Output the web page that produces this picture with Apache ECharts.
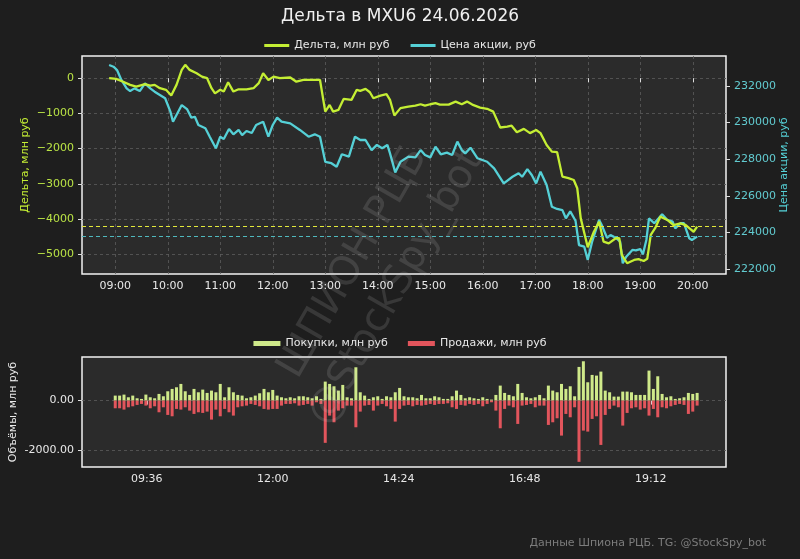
<!DOCTYPE html>
<html>
<head>
<meta charset="utf-8">
<script src="https://cdn.jsdelivr.net/npm/echarts@6/dist/echarts.min.js"></script>
<style>
  html, body { margin: 0; background: #1e1e1e; }
  #chart { width: 800px; height: 559px; }
</style>
</head>
<body>
<div id="chart"></div>
<script>
// delta, cumulative (mln rub)
const deltaTimes = ["08:53","09:01","09:09","09:17","09:24","09:34","09:40","09:45","09:51","09:58",
  "10:04","10:10","10:16","10:20","10:25","10:33","10:39","10:45","10:50","10:54",
  "11:00","11:04","11:09","11:15","11:21","11:30","11:38","11:44","11:49","11:55",
  "12:01","12:08","12:20","12:27","12:35","12:46","12:54","13:00","13:05","13:09",
  "13:15","13:21","13:30","13:36","13:40","13:46","13:51","13:55","14:03","14:10",
  "14:14","14:19","14:26","14:35","14:43","14:49","14:54","15:00","15:06","15:11",
  "15:21","15:29","15:36","15:42","15:48","15:57","16:05","16:12","16:20","16:28",
  "16:33","16:39","16:47","16:54","17:01","17:06","17:13","17:19","17:25","17:31",
  "17:38","17:44","17:48","17:52","18:00","18:07","18:13","18:18","18:24","18:32",
  "18:36","18:39","18:45","18:53","18:58","19:04","19:08","19:12","19:17","19:23",
  "19:31","19:38","19:46","19:52","19:56","20:01","20:05"]
const deltaValues = [0,-20,-100,-190,-240,-170,-210,-190,-285,-330,
  -490,-190,235,380,235,140,45,0,-285,-430,
  -330,-380,-115,-380,-315,-315,-285,-140,140,-50,
  45,0,20,-100,-50,-50,-50,-950,-760,-950,
  -900,-590,-615,-330,-360,-305,-400,-570,-495,-455,
  -615,-1060,-850,-805,-780,-740,-780,-740,-710,-750,
  -750,-665,-740,-665,-750,-835,-870,-950,-1400,-1375,
  -1350,-1535,-1440,-1560,-1470,-1560,-1895,-2085,-2100,-2795,
  -2840,-2890,-3125,-3980,-4800,-4360,-4075,-4640,-4690,-4545,
  -4545,-5020,-5255,-5160,-5140,-5190,-5130,-4450,-4260,-3930,
  -4025,-4170,-4120,-4170,-4260,-4360,-4215]

// share price (rub)
const priceTimes = ["08:53","08:58","09:02","09:07","09:13","09:17","09:22","09:28","09:34","09:40",
  "09:45","09:51","09:57","10:03","10:06","10:10","10:16","10:22","10:27","10:31",
  "10:35","10:43","10:48","10:55","11:00","11:04","11:10","11:15","11:21","11:25",
  "11:30","11:36","11:41","11:49","11:55","12:00","12:05","12:10","12:20","12:31",
  "12:41","12:48","12:54","13:00","13:07","13:13","13:19","13:27","13:34","13:40",
  "13:46","13:53","13:59","14:05","14:11","14:14","14:20","14:26","14:35","14:43",
  "14:49","14:54","15:00","15:06","15:12","15:19","15:25","15:31","15:36","15:40",
  "15:46","15:54","16:05","16:13","16:24","16:34","16:41","16:45","16:51","16:56",
  "17:01","17:06","17:13","17:19","17:25","17:31","17:35","17:40","17:46","17:50",
  "17:56","18:00","18:05","18:13","18:16","18:22","18:26","18:32","18:37","18:40",
  "18:44","18:51","18:55","19:00","19:03","19:07","19:10","19:16","19:21","19:25",
  "19:31","19:37","19:40","19:46","19:50","19:56","19:59","20:05"]
const priceValues = [233150,233055,232875,232330,231870,231725,231870,231725,232145,231870,
  231690,231510,231330,230600,230050,230415,230960,230740,230270,230320,
  229870,229690,229230,228600,229230,229100,229650,229360,229600,229320,
  229540,229430,229870,230050,229230,229870,230270,230050,229960,229600,
  229230,229360,229230,227860,227780,227590,228270,228140,229230,229050,
  229050,228500,228780,228600,228780,228320,227280,227860,228140,228100,
  228500,228230,228100,228680,228270,228360,228230,228960,228500,228320,
  228630,228050,227860,227500,226680,227040,227230,227040,227460,227140,
  226680,227320,226590,225400,225280,225220,224770,225150,224640,223310,
  223220,222500,223490,224680,224400,223710,223850,223710,223490,222310,
  222670,223040,223020,223090,222800,223590,224770,224500,224770,224990,
  224680,224590,224220,224500,224500,223680,223590,223770]

// 5-minute volumes from 09:00 (mln rub)
const barStart = "09:00"
const buyValues = [200,200,240,133,200,93,67,240,133,93,
  267,173,373,467,533,667,373,227,467,333,
  440,307,400,333,667,133,533,333,227,200,
  93,133,200,293,467,333,427,200,133,93,
  133,93,173,173,133,93,173,67,760,667,
  573,400,627,133,93,1333,333,200,67,133,
  173,67,173,133,333,507,173,133,133,93,
  227,93,93,173,133,67,67,173,400,227,
  93,133,93,67,133,67,40,227,600,307,
  227,173,667,307,133,93,133,227,93,600,
  400,333,667,467,573,173,1347,1573,733,1027,
  1000,1160,400,333,160,160,360,360,333,227,
  227,227,1200,467,973,267,133,173,67,93,
  133,307,267,307]
const sellValues = [307,307,360,267,227,173,133,200,307,227,
  467,267,573,627,333,360,267,400,533,467,
  493,440,760,360,627,333,467,600,267,227,
  200,133,173,227,333,360,333,333,200,133,
  133,107,200,173,133,200,67,133,1690,600,
  867,400,307,200,200,1067,440,200,173,400,
  200,133,227,333,840,333,200,173,227,173,
  200,173,133,173,133,133,107,267,333,173,
  200,133,173,133,227,133,67,400,1107,333,
  200,267,933,200,173,133,267,200,200,973,
  867,707,1400,533,667,267,2450,1200,1240,733,
  627,1773,573,333,200,267,1000,493,307,267,
  360,307,600,333,667,267,307,227,173,133,
  173,533,440,200]

const topTicks = ["09:00","10:00","11:00","12:00","13:00","14:00","15:00","16:00","17:00","18:00","19:00","20:00"]
const bottomTicks = ["09:36","12:00","14:24","16:48","19:12"]
const deltaTicks = [0,-1000,-2000,-3000,-4000,-5000]
const priceTicks = [222000,224000,226000,228000,230000,232000]
const volTicks = [-2000, 0]

const toMin = s => { const p = s.split(':'); return (+p[0]) * 60 + (+p[1]) }
const fmtMin = v => String(Math.floor(v / 60)).padStart(2, '0') + ':' + String(Math.round(v % 60)).padStart(2, '0')

const deltaData = deltaTimes.map((t, i) => [toMin(t), deltaValues[i]])
const priceData = priceTimes.map((t, i) => [toMin(t), priceValues[i]])
const t0 = toMin(barStart)
const buyData = buyValues.map((v, i) => [t0 + i * 5, v])
const sellData = sellValues.map((v, i) => [t0 + i * 5, -v])

const LIME = '#c4ee34'
const CYAN = '#55d0d6'
const FONT = 'DejaVu Sans'
const gridLine = { show: true, lineStyle: { color: '#5e5e5e', type: [3, 3], width: 0.8 } }
const tick = (vals) => ({ show: true, length: 4, lineStyle: { color: '#dddddd' }, customValues: vals })

var chart = echarts.init(document.getElementById('chart'))
chart.setOption({
  backgroundColor: '#1e1e1e',
  animation: false,
  textStyle: { fontFamily: FONT },
  title: {
    text: 'Дельта в MXU6 24.06.2026',
    left: 'center', top: 3,
    textStyle: { color: '#f0f0f0', fontSize: 17, fontWeight: 'normal', fontFamily: FONT }
  },
  legend: [
    {
      data: ['Дельта, млн руб', 'Цена акции, руб'],
      top: 35, left: 'center',
      icon: 'rect', itemWidth: 25, itemHeight: 3, itemGap: 21,
      textStyle: { color: '#e8e8e8', fontSize: 11 }
    },
    {
      data: ['Покупки, млн руб', 'Продажи, млн руб'],
      top: 333, left: 'center',
      icon: 'rect', itemWidth: 27, itemHeight: 5, itemGap: 20,
      textStyle: { color: '#e8e8e8', fontSize: 11 }
    }
  ],
  grid: [
    { left: 82, right: 74, top: 56, height: 218, outerBoundsMode: 'none', show: true, backgroundColor: '#2b2b2b', borderColor: '#f2f2f2', borderWidth: 1.5 },
    { left: 82, right: 74, top: 357, height: 110, outerBoundsMode: 'none', show: true, backgroundColor: '#2b2b2b', borderColor: '#f2f2f2', borderWidth: 1.5 }
  ],
  xAxis: [
    {
      gridIndex: 0, type: 'value', min: 502, max: 1238,
      axisLine: { show: false },
      axisTick: tick(topTicks.map(toMin)),
      axisLabel: { customValues: topTicks.map(toMin), formatter: fmtMin, color: '#e8e8e8', fontSize: 11, margin: 7 },
      splitLine: gridLine
    },
    {
      gridIndex: 1, type: 'value', min: 502, max: 1238,
      axisLine: { show: false },
      axisTick: tick(bottomTicks.map(toMin)),
      axisLabel: { customValues: bottomTicks.map(toMin), formatter: fmtMin, color: '#e8e8e8', fontSize: 11, margin: 7 },
      splitLine: { show: false }
    }
  ],
  yAxis: [
    {
      gridIndex: 0, type: 'value', min: -5560, max: 630, position: 'left',
      name: 'Дельта, млн руб', nameLocation: 'middle', nameGap: 51, nameRotate: 90, nameMoveOverlap: false,
      nameTextStyle: { color: LIME, fontSize: 11 },
      axisLine: { show: false },
      axisTick: tick(deltaTicks),
      axisLabel: { customValues: deltaTicks, formatter: v => v < 0 ? '\u2212' + Math.abs(v) : String(v), color: '#b9e245', fontSize: 11, margin: 8 },
      splitLine: gridLine
    },
    {
      gridIndex: 0, type: 'value', min: 221727, max: 233640, position: 'right',
      name: 'Цена акции, руб', nameLocation: 'middle', nameGap: 53, nameRotate: 90, nameMoveOverlap: false,
      nameTextStyle: { color: CYAN, fontSize: 11 },
      axisLine: { show: false },
      axisTick: tick(priceTicks),
      axisLabel: { customValues: priceTicks, formatter: v => String(v), color: '#62cbd0', fontSize: 11, margin: 8 },
      splitLine: { show: false }
    },
    {
      gridIndex: 1, type: 'value', min: -2656, max: 1744,
      name: 'Объёмы, млн руб', nameLocation: 'middle', nameGap: 63, nameRotate: 90, nameMoveOverlap: false,
      nameTextStyle: { color: '#e8e8e8', fontSize: 11 },
      axisLine: { show: false },
      axisTick: tick(volTicks),
      axisLabel: { customValues: volTicks, formatter: v => v.toFixed(2), color: '#e8e8e8', fontSize: 11, margin: 8 },
      splitLine: gridLine
    }
  ],
  series: [
    {
      name: 'Дельта, млн руб', type: 'line', xAxisIndex: 0, yAxisIndex: 0,
      data: deltaData, showSymbol: false, z: 4,
      lineStyle: { color: LIME, width: 2.3 }, itemStyle: { color: LIME },
      markLine: {
        silent: true, symbol: 'none', label: { show: false },
        lineStyle: { color: '#e3e83a', type: [4, 3], width: 1 },
        data: [{ yAxis: deltaValues[deltaValues.length - 1] }]
      }
    },
    {
      name: 'Цена акции, руб', type: 'line', xAxisIndex: 0, yAxisIndex: 1,
      data: priceData, showSymbol: false, z: 3,
      lineStyle: { color: CYAN, width: 2.3 }, itemStyle: { color: CYAN },
      markLine: {
        silent: true, symbol: 'none', label: { show: false },
        lineStyle: { color: '#4fb8be', type: [4, 3], width: 1 },
        data: [{ yAxis: priceValues[priceValues.length - 1] }]
      }
    },
    {
      name: 'Покупки, млн руб', type: 'bar', xAxisIndex: 1, yAxisIndex: 2,
      data: buyData, stack: 'vol', barWidth: 3,
      itemStyle: { color: '#cfe98a' }
    },
    {
      name: 'Продажи, млн руб', type: 'bar', xAxisIndex: 1, yAxisIndex: 2,
      data: sellData, stack: 'vol', barWidth: 3,
      itemStyle: { color: '#e2555c' }
    }
  ],
  graphic: [
    {
      type: 'text', x: 375, y: 275, rotation: Math.PI / 3, z: 100, silent: true,
      style: {
        text: 'ШПИОН РЦБ\n@StockSpy_bot',
        fontSize: 40, fontFamily: FONT, lineHeight: 50,
        fill: 'rgba(210,210,210,0.15)', align: 'center', verticalAlign: 'middle'
      }
    },
    {
      type: 'text', right: 34, top: 538, silent: true,
      style: { text: 'Данные Шпиона РЦБ. TG: @StockSpy_bot', fontSize: 11, fontFamily: FONT, fill: '#7c7c7c' }
    }
  ]
})
</script>
</body>
</html>
